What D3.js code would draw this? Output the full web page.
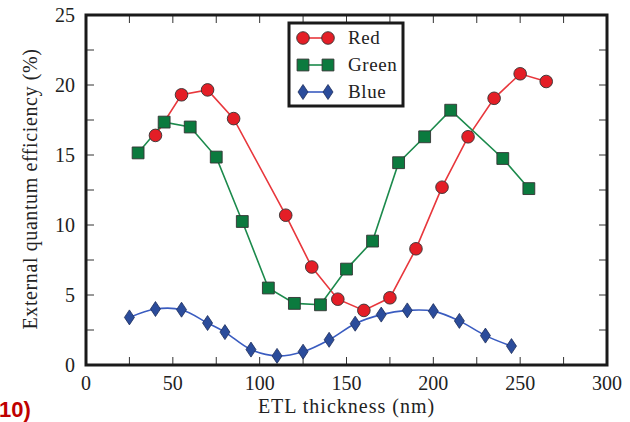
<!DOCTYPE html>
<html>
<head>
<meta charset="utf-8">
<script src="https://cdn.jsdelivr.net/npm/d3@7"></script>
<style>
  body { margin: 0; background: #fff; }
  text { font-family: "Liberation Serif", serif; fill: #222; }
</style>
</head>
<body>
<svg id="chart" width="630" height="422"></svg>
<script>
// data
var redX   = [40, 55, 70, 85, 115, 130, 145, 160, 175, 190, 205, 220, 235, 250, 265];
var redY   = [16.4, 19.3, 19.65, 17.6, 10.7, 7.0, 4.7, 3.9, 4.8, 8.3, 12.7, 16.3, 19.05, 20.8, 20.25];
var greenX = [30, 45, 60, 75, 90, 105, 120, 135, 150, 165, 180, 195, 210, 240, 255];
var greenY = [15.15, 17.35, 17.0, 14.85, 10.25, 5.5, 4.4, 4.3, 6.85, 8.85, 14.45, 16.3, 18.2, 14.75, 12.6];
var blueX  = [25, 40, 55, 70, 80, 95, 110, 125, 140, 155, 170, 185, 200, 215, 230, 245];
var blueY  = [3.4, 4.0, 3.95, 3.0, 2.35, 1.1, 0.65, 0.95, 1.8, 2.95, 3.6, 3.9, 3.85, 3.15, 2.1, 1.35];
var seriesNames = ["Red", "Green", "Blue"];
var xTicks = [0, 50, 100, 150, 200, 250, 300];
var yTicks = [0, 5, 10, 15, 20, 25];

const svg = d3.select("#chart");
const pL = 86, pR = 607, pT = 15, pB = 365;

const x = d3.scaleLinear().domain([0, 300]).range([pL, pR]);
const y = d3.scaleLinear().domain([0, 25]).range([pB, pT]);

const styles = {
  Red:   { line: "#e8373c", fill: "#e41e26", shape: d3.symbolCircle,  size: 125 },
  Green: { line: "#1c8a4c", fill: "#0b7a3e", shape: d3.symbolSquare,  size: 140 },
  Blue:  { line: "#3a5cc0", fill: "#2b4c9b", shape: "diamond",        size: 0 }
};

function zip(xs, ys) { return xs.map((v, i) => ({x: v, y: ys[i]})); }
const series = [
  {name: "Red",   pts: zip(redX, redY),     curve: d3.curveLinear},
  {name: "Green", pts: zip(greenX, greenY), curve: d3.curveLinear},
  {name: "Blue",  pts: zip(blueX, blueY),   curve: d3.curveCatmullRom}
];

function marker(g, name) {
  var s = styles[name];
  if (s.shape === "diamond") {
    g.append("path").attr("d", "M0,-7.5L5,0L0,7.5L-5,0Z")
      .attr("fill", s.fill).attr("stroke", "#1d2d5a").attr("stroke-width", 0.8);
  } else {
    g.append("path").attr("d", d3.symbol().type(s.shape).size(s.size)())
      .attr("fill", s.fill).attr("stroke", "#333").attr("stroke-width", 0.9);
  }
}

// ticks on all four sides, pointing in
const tickLen = 8;
const xt = d3.range(0, 301, 25), yt = d3.range(0, 25.01, 2.5);
const tk = svg.append("g").attr("stroke", "#333").attr("stroke-width", 1);
xt.forEach(function(v) {
  tk.append("line").attr("x1", x(v)).attr("x2", x(v)).attr("y1", pB).attr("y2", pB - tickLen);
  tk.append("line").attr("x1", x(v)).attr("x2", x(v)).attr("y1", pT).attr("y2", pT + tickLen);
});
yt.forEach(function(v) {
  tk.append("line").attr("x1", pL).attr("x2", pL + tickLen).attr("y1", y(v)).attr("y2", y(v));
  tk.append("line").attr("x1", pR).attr("x2", pR - tickLen).attr("y1", y(v)).attr("y2", y(v));
});

// lines and markers
series.forEach(function(s) {
  var line = d3.line().x(d => x(d.x)).y(d => y(d.y)).curve(s.curve);
  svg.append("path").datum(s.pts).attr("d", line)
    .attr("fill", "none").attr("stroke", styles[s.name].line).attr("stroke-width", 1.6);
});
series.forEach(function(s) {
  svg.append("g").selectAll("g").data(s.pts).enter().append("g")
    .attr("transform", d => "translate(" + x(d.x) + "," + y(d.y) + ")")
    .each(function() { marker(d3.select(this), s.name); });
});

// frame
svg.append("rect").attr("x", pL).attr("y", pT).attr("width", pR - pL).attr("height", pB - pT)
  .attr("fill", "none").attr("stroke", "#1a1a1a").attr("stroke-width", 3);

// tick labels
svg.append("g").selectAll("text").data(xTicks).enter().append("text")
  .attr("x", d => x(d)).attr("y", pB + 25).attr("text-anchor", "middle")
  .style("font-size", "20px").text(d => d);
svg.append("g").selectAll("text").data(yTicks).enter().append("text")
  .attr("x", pL - 11).attr("y", d => y(d) + 7).attr("text-anchor", "end")
  .style("font-size", "20px").text(d => d);

// axis titles
svg.append("text").attr("x", x(150)).attr("y", 413).attr("text-anchor", "middle")
  .style("font-size", "20px").style("letter-spacing", "1px").text("ETL thickness (nm)");
svg.append("text").attr("transform", "translate(37,189) rotate(-90)").attr("text-anchor", "middle")
  .style("font-size", "20px").style("letter-spacing", "0.6px").text("External quantum efficiency (%)");

// legend
const lg = svg.append("g");
lg.append("rect").attr("x", 289).attr("y", 23).attr("width", 114).attr("height", 83)
  .attr("fill", "#fff").attr("stroke", "#1a1a1a").attr("stroke-width", 3);
seriesNames.forEach(function(n, i) {
  var ly = 38 + i * 27;
  lg.append("line").attr("x1", 303).attr("x2", 328).attr("y1", ly).attr("y2", ly)
    .attr("stroke", styles[n].line).attr("stroke-width", 1.6);
  marker(lg.append("g").attr("transform", "translate(303," + ly + ")"), n);
  marker(lg.append("g").attr("transform", "translate(328," + ly + ")"), n);
  lg.append("text").attr("x", 348).attr("y", ly + 6).style("font-size", "19px")
    .style("letter-spacing", "0.6px").text(n);
});

// panel label (cut at the edge)
svg.append("text").attr("x", -1).attr("y", 417)
  .style("font-family", "'Liberation Sans', Arial, sans-serif").style("font-weight", "bold")
  .style("font-size", "22px").style("fill", "#c00000").text("10)");
</script>
</body>
</html>
